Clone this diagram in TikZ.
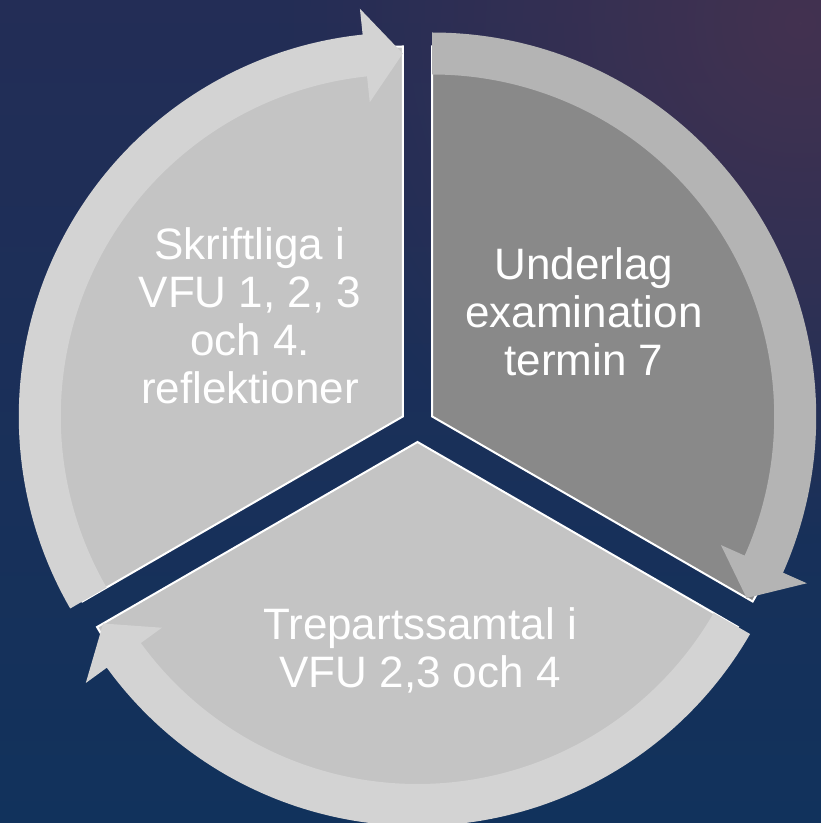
\documentclass[tikz,border=0pt]{standalone}
\usepackage{fontspec}
\setmainfont{Liberation Sans}
\usetikzlibrary{fadings}

\definecolor{navy}{HTML}{11325C}
\definecolor{navydeep}{HTML}{0E2A52}
\definecolor{navytop}{HTML}{232D56}
\definecolor{plum}{HTML}{433250}
\definecolor{lightbody}{HTML}{C4C4C4}
\definecolor{lightband}{HTML}{D3D3D3}
\definecolor{darkbody}{HTML}{898989}
\definecolor{darkband}{HTML}{B4B4B4}

\tikzfading[name=glow, inner color=transparent!0, outer color=transparent!100]

\begin{document}
\begin{tikzpicture}[x=1pt, y=1pt,
		slicefill/.style={fill=#1},
		sliceedge/.style={draw=white, line width=2pt, line join=miter},
		arrowband/.style={fill=#1},
		slicetext/.style={text=white, align=center, font=\fontsize{44}{48}\selectfont}]
		% background
		\useasboundingbox (0,0) rectangle (821,823);
		\clip (0,0) rectangle (821,823);
		\shade[top color=navytop, middle color=navydeep, bottom color=navy] (0,0) rectangle (821,823);
		\fill[plum, path fading=glow] (800,800) circle (520);
		% slices and arrows, \a is the angle of the arrow tip
		\foreach \a/\body/\band in {90/lightbody/lightband, -30/darkbody/darkband, 210/lightbody/lightband}
		{
			\begin{scope}[shift={(417.5,398)}, shift={(\a+60:17)}]
				\path[slicefill=\body, sliceedge] (0,0) -- (\a:370) arc[start angle=\a, end angle=\a+120, radius=370] -- cycle;
				\fill[arrowband=\band] (\a+120:342) arc[start angle=\a+120, end angle=\a+6, radius=342]
					-- (\a+6:316) -- (\a:363) -- (\a+6:410) -- (\a+6:384)
					arc[start angle=\a+6, end angle=\a+120, radius=384] -- cycle;
			\end{scope}
		}
		% texts
		\node[slicetext] (skrift) at (250,507) {Skriftliga i\\VFU 1, 2, 3\\och 4.\\reflektioner};
		\node[slicetext] (underlag) at (584,511) {Underlag\\examination\\termin 7};
		\node[slicetext] (trepart) at (420,173) {Trepartssamtal i\\VFU 2,3 och 4};
	\end{tikzpicture}
\end{document}
